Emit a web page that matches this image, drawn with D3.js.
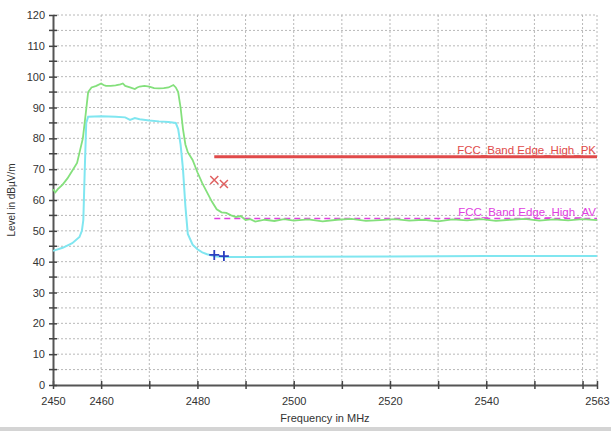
<!DOCTYPE html>
<html><head><meta charset="utf-8">
<script src="https://cdn.jsdelivr.net/npm/d3@7"></script>
<style>html,body{margin:0;padding:0;background:#fff;}svg{display:block;font-family:"Liberation Sans",Arial,sans-serif;}</style>
</head><body>
<svg id="c" width="611" height="431"></svg>
<script>
const peakFreq = [2450,2450.5,2451,2452,2453,2454,2455,2455.6,2456.2,2456.8,2457.3,2458,2459,2460,2460.5,2461,2462,2463,2464,2464.5,2465,2466,2467,2467.5,2468,2469,2470,2471,2472,2473,2474,2475,2475.5,2476,2476.5,2477,2477.5,2478,2479,2480,2481,2482,2483,2484,2485,2486,2487,2488,2489,2490,2491,2492,2494,2496,2498,2500,2503,2506,2509,2512,2515,2518,2521,2524,2527,2530,2533,2536,2539,2542,2545,2548,2551,2554,2557,2560,2563];
const peakVal  = [63.5,62.5,63.5,65,67,69.5,72,76,80,88,95,96.5,97,97.8,97.3,97,97,97.2,97.5,97.8,97,96.5,96,96.5,96.8,97,96.8,96.3,96.2,96.3,96.5,97.3,96.5,95,90,83,78,75.5,73,69,65.5,62.5,59.5,57,56,55.8,55,54.5,54.8,53.5,53.8,53,53.6,53.2,53.8,53.3,53.7,53.1,53.6,53.9,53.2,53.5,53.8,53.3,53.6,53.1,53.7,53.4,53.8,53.2,53.6,53.9,53.3,53.7,53.4,53.8,53.5];
const avgFreq  = [2450,2452,2454,2455.5,2456,2456.3,2456.6,2456.9,2457.3,2460,2463,2465,2466,2467,2468,2470,2472,2474,2475.5,2476,2476.5,2477,2477.5,2478,2479,2480,2481,2482,2483,2484,2486,2490,2500,2520,2540,2563];
const avgVal   = [43.5,44.5,46,48,50,53.5,70,85,87,87.2,87,86.8,86,86.6,86.2,85.8,85.5,85.3,85,83,78,70,58,49,45.5,44,43,42.4,42,41.7,41.5,41.5,41.6,41.7,41.8,41.8];
const pkMarkFreq = [2483.5,2485.5];
const pkMarkVal  = [66.5,65.2];
const avMarkFreq = [2483.5,2485.5];
const avMarkVal  = [42.2,41.8];
const limitNames = ["FCC_Band Edge_High_PK","FCC_Band Edge_High_AV"];
const limitVals  = [74,54];
const limitStart = [2483.5,2483.5];
const limitEnd   = [2563,2563];
const xTickVals  = [2450,2460,2470,2480,2490,2500,2510,2520,2530,2540,2550,2560,2563];
const xTickLabels= ["2450","2460","","2480","","2500","","2520","","2540","","","2563"];
const yTickVals  = [0,10,20,30,40,50,60,70,80,90,100,110,120];
const yMinorVals = [5,15,25,35,45,55,65,75,85,95,105,115];

const svg = d3.select("#c");
const L=53,R=597,T=15,B=385;
const x = d3.scaleLinear().domain([2450,2563]).range([L,R]);
const y = d3.scaleLinear().domain([0,120]).range([B,T]);

svg.append("rect").attr("x",0).attr("y",427).attr("width",611).attr("height",4).attr("fill","#d4d4d4");

// grid
const grid = svg.append("g").attr("stroke","#b8b8b8").attr("stroke-width",1).attr("stroke-dasharray","2,2");
xTickVals.slice(1).forEach(v=>grid.append("line").attr("x1",x(v)).attr("x2",x(v)).attr("y1",T).attr("y2",B));
yTickVals.concat(yMinorVals).filter(v=>v>0).forEach(v=>grid.append("line").attr("x1",L).attr("x2",R).attr("y1",y(v)).attr("y2",y(v)));

// axes
const ax = svg.append("g").attr("transform",`translate(0,${B})`)
  .call(d3.axisBottom(x).tickValues(xTickVals).tickFormat((d,i)=>xTickLabels[i]).tickSizeInner(4).tickSizeOuter(0).tickPadding(8));
ax.selectAll(".tick line").attr("y1",-4).attr("y2",4).attr("stroke","#444").attr("stroke-width",1.5);
ax.select(".domain").attr("stroke","#555").attr("stroke-width",2);
ax.selectAll("text").attr("fill","#333").attr("font-size",11).attr("font-family","Liberation Sans, Arial, sans-serif");

const ay = svg.append("g").attr("transform",`translate(${L},0)`)
  .call(d3.axisLeft(y).tickValues(yTickVals).tickSizeInner(4).tickSizeOuter(0).tickPadding(4));
ay.selectAll(".tick line").attr("x1",-4).attr("x2",4).attr("stroke","#444").attr("stroke-width",1.5);
ay.select(".domain").attr("stroke","#555").attr("stroke-width",2);
ay.selectAll("text").attr("fill","#333").attr("font-size",11).attr("font-family","Liberation Sans, Arial, sans-serif");
yMinorVals.forEach(v=>svg.append("line").attr("x1",L-4).attr("x2",L+4).attr("y1",y(v)).attr("y2",y(v)).attr("stroke","#444").attr("stroke-width",1.5));

// titles
svg.append("text").attr("x",(L+R)/2).attr("y",422).attr("text-anchor","middle").attr("font-size",11).attr("fill","#333").text("Frequency in MHz");
svg.append("text").attr("transform",`translate(15,${(T+B)/2}) rotate(-90)`).attr("text-anchor","middle").attr("font-size",10).attr("fill","#333").text("Level in dBµV/m");

// limit lines
const limColors = ["#e04a4a","#e040e0"];
limitVals.forEach((v,i)=>{
  const ln = svg.append("line").attr("x1",x(limitStart[i])).attr("x2",x(limitEnd[i])).attr("y1",y(v)).attr("y2",y(v)).attr("stroke",limColors[i]);
  if(i===0) ln.attr("stroke-width",3); else ln.attr("stroke-width",1.5).attr("stroke-dasharray","6,4");
  svg.append("text").attr("x",x(limitEnd[i])-1).attr("y",y(v)-3).attr("text-anchor","end").attr("font-size",11.5).attr("fill",limColors[i]).text(limitNames[i]);
});

// traces
const line = d3.line().x(d=>x(d[0])).y(d=>y(d[1]));
svg.append("path").datum(avgFreq.map((f,i)=>[f,avgVal[i]])).attr("d",line).attr("fill","none").attr("stroke","#80e6f0").attr("stroke-width",2);
svg.append("path").datum(peakFreq.map((f,i)=>[f,peakVal[i]])).attr("d",line).attr("fill","none").attr("stroke","#84e07c").attr("stroke-width",1.8);

// markers
pkMarkFreq.forEach((f,i)=>{
  const cx=x(f), cy=y(pkMarkVal[i]), s=4;
  svg.append("path").attr("d",`M${cx-s},${cy-s}L${cx+s},${cy+s}M${cx-s},${cy+s}L${cx+s},${cy-s}`).attr("stroke","#e06060").attr("stroke-width",1.5).attr("fill","none");
});
avMarkFreq.forEach((f,i)=>{
  const cx=x(f), cy=y(avMarkVal[i]), s=5;
  svg.append("path").attr("d",`M${cx-s},${cy}L${cx+s},${cy}M${cx},${cy-s}L${cx},${cy+s}`).attr("stroke","#2a3fc0").attr("stroke-width",1.8).attr("fill","none");
});
</script>
</body></html>
